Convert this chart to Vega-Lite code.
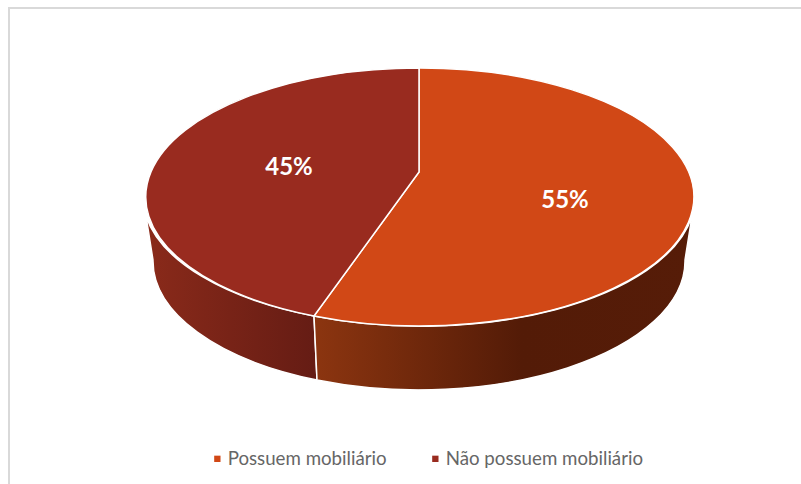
{
  "$schema": "https://vega.github.io/schema/vega-lite/v6.json",
  "width": 800,
  "height": 480,
  "padding": {"left": 9, "top": 8, "right": 0, "bottom": 0},
  "background": "white",
  "view": {"stroke": "#d9d9d9", "strokeWidth": 2, "fill": "white"},
  "data": {"values": [
    {"categoria": "Possuem mobiliário", "percentual": 0.55},
    {"categoria": "Não possuem mobiliário", "percentual": 0.45}
  ]},
  "layer": [
    {
      "transform": [{"filter": "datum.categoria === 'Não possuem mobiliário'"}],
      "mark": {
        "type": "point", "filled": true, "size": 4, "opacity": 1,
        "shape": "M-263,-32 A274,129 0 0 0 -95,68 L-92,132 A266,129 0 0 1 -256,12 Z",
        "stroke": "white", "strokeWidth": 1.5,
        "fill": {"gradient": "linear", "x1": 0, "y1": 0, "x2": 1, "y2": 0, "stops": [
          {"offset": 0, "color": "#8A2A1A"}, {"offset": 1, "color": "#651C14"}
        ]}
      }
    },
    {
      "transform": [{"filter": "datum.categoria === 'Possuem mobiliário'"}],
      "mark": {
        "type": "point", "filled": true, "size": 4, "opacity": 1,
        "shape": "M-95,68 A274,129 0 0 0 283,-32 L276,12 A266,129 0 0 1 -92,132 Z",
        "stroke": "white", "strokeWidth": 1.5,
        "fill": {"gradient": "linear", "x1": 0, "y1": 0, "x2": 1, "y2": 0, "stops": [
          {"offset": 0, "color": "#8C3510"}, {"offset": 0.55, "color": "#531B07"}, {"offset": 1, "color": "#561C08"}
        ]}
      }
    },
    {
      "transform": [{"filter": "datum.categoria === 'Possuem mobiliário'"}],
      "mark": {"type": "point", "filled": true, "size": 4, "opacity": 1, "stroke": "white", "strokeWidth": 1.5, "fill": "#D14816",
        "shape": "M10,-76 L10,-180 A274,129 0 1 1 -95,68 Z"}
    },
    {
      "transform": [{"filter": "datum.categoria === 'Não possuem mobiliário'"}],
      "mark": {"type": "point", "filled": true, "size": 4, "opacity": 1, "stroke": "white", "strokeWidth": 1.5, "fill": "#992B1F",
        "shape": "M10,-76 L-95,68 A274,129 0 0 1 10,-180 Z"}
    },
    {
      "mark": {"type": "square", "size": 0, "opacity": 1},
      "encoding": {
        "color": {
          "field": "categoria", "type": "nominal",
          "sort": ["Possuem mobiliário", "Não possuem mobiliário"],
          "scale": {"domain": ["Possuem mobiliário", "Não possuem mobiliário"], "range": ["#D14816", "#992B1F"]},
          "legend": {
            "title": null, "orient": "none", "direction": "horizontal", "columns": 2,
            "legendX": 199, "legendY": 441,
            "symbolType": "square", "symbolSize": 40, "symbolStrokeWidth": 0,
            "labelFont": "Lato", "labelFontSize": 18.7, "labelColor": "#666666",
            "labelOffset": 1, "columnPadding": 39, "labelLimit": 300
          }
        }
      }
    },
    {
      "transform": [{"filter": "datum.categoria === 'Não possuem mobiliário'"}],
      "mark": {"type": "text", "font": "Lato", "fontWeight": "bold", "fontSize": 24, "color": "white", "dx": -120, "dy": -80, "baseline": "middle", "align": "center"},
      "encoding": {"text": {"field": "percentual", "type": "quantitative", "format": ".0%"}}
    },
    {
      "transform": [{"filter": "datum.categoria === 'Possuem mobiliário'"}],
      "mark": {"type": "text", "font": "Lato", "fontWeight": "bold", "fontSize": 24, "color": "white", "dx": 156, "dy": -47, "baseline": "middle", "align": "center"},
      "encoding": {"text": {"field": "percentual", "type": "quantitative", "format": ".0%"}}
    }
  ]
}
